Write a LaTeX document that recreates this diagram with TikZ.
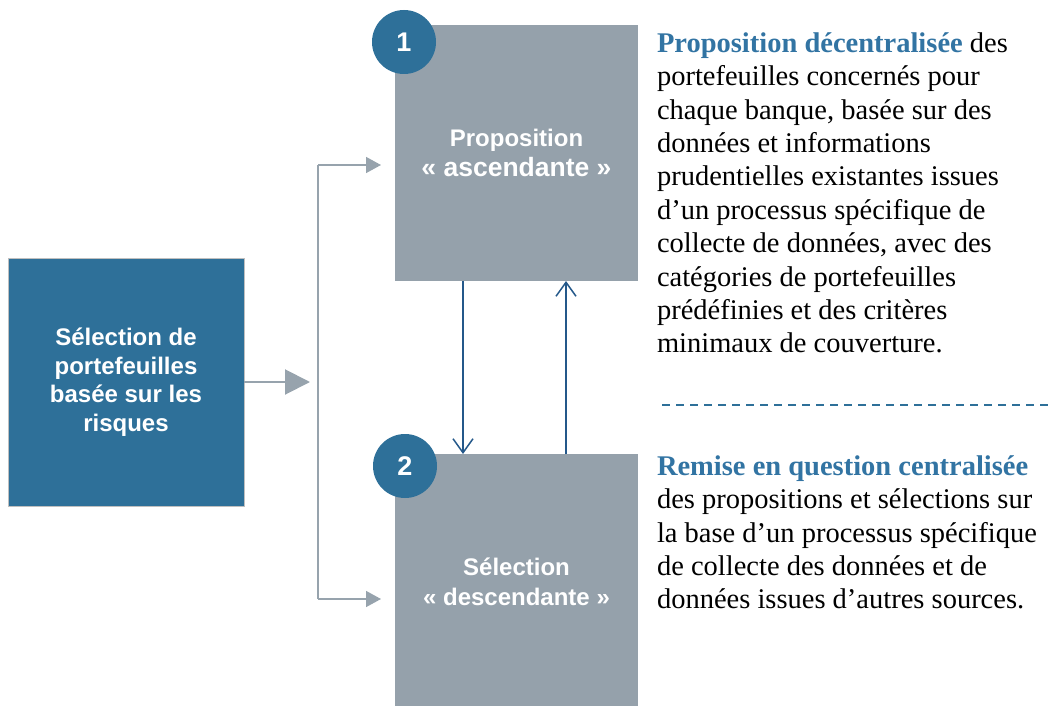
\documentclass[tikz,border=0pt]{standalone}
\usepackage{fontspec}
\setmainfont{Liberation Serif}
\setsansfont{Liberation Sans}
\usepackage{xcolor}
\usetikzlibrary{positioning,calc,arrows.meta}
\definecolor{mainblue}{HTML}{2E7099}
\definecolor{headblue}{HTML}{3274A3}
\definecolor{arrowblue}{HTML}{24588A}
\definecolor{boxgrey}{HTML}{95A1AB}
\definecolor{linegrey}{HTML}{97A3AD}

\begin{document}
\begin{tikzpicture}[
    x=1pt, y=-1pt,
    outer sep=0pt,
    greybox/.style={fill=boxgrey, minimum width=243pt, minimum height=256pt, align=center, text=white, font=\sffamily\bfseries\fontsize{24}{30}\selectfont},
    bluebox/.style={fill=mainblue, draw=black!25, line width=1pt, minimum width=236pt, minimum height=248pt, align=center, text=white, font=\sffamily\bfseries\fontsize{24}{28.5}\selectfont},
    numdot/.style={circle, fill=mainblue, minimum size=64pt, inner sep=0pt, text=white, font=\sffamily\bfseries\fontsize{27}{30}\selectfont},
    desctext/.style={anchor=north west, inner sep=0pt, align=left, font=\fontsize{28.5}{33.4}\selectfont},
    feed/.style={draw=linegrey, line width=1.5pt},
    updown/.style={draw=arrowblue, line width=1.5pt, -{Straight Barb[length=14pt, width=20pt]}}
]
    \useasboundingbox (0,0) rectangle (1054,706);

    \node [bluebox] (sel) at (126,382) {Sélection de\\portefeuilles\\basée sur les\\risques};
    \node [greybox] (prop) at (516.5,153) {Proposition\\{\fontsize{26.5}{30}\selectfont « ascendante »}};
    \node [greybox, below=173pt of prop] (desc) {Sélection\\« descendante »};
    \node [numdot] (n1) at (404,42) {1};
    \node [numdot] (n2) at (405,466) {2};

    \coordinate (brk mid) at (318,382);
    \coordinate (brk top) at (318,165);
    \coordinate (brk bot) at (318,599);

    \draw [feed, -{Triangle[length=25pt, width=25pt]}, line width=2pt, shorten >=8pt] (sel.east) -- (brk mid);
    \draw [feed] (brk top) -- (brk bot);
    \draw [feed, -{Triangle[length=15pt, width=16pt]}, shorten >=14pt] (brk top) -- (brk top -| prop.west);
    \draw [feed, -{Triangle[length=15pt, width=16pt]}, shorten >=14pt] (brk bot) -- (brk bot -| desc.west);

    \draw [updown] ([xshift=-53.5pt]prop.south) -- ([xshift=-53.5pt]desc.north);
    \draw [updown] ([xshift=49.5pt]desc.north) -- ([xshift=49.5pt]prop.south);

    \node [desctext] (t1) at (657,32.5) {\textcolor{headblue}{\textbf{Proposition décentralisée}} des\\portefeuilles concernés pour\\chaque banque, basée sur des\\données et informations\\prudentielles existantes issues\\d’un processus spécifique de\\collecte de données, avec des\\catégories de portefeuilles\\prédéfinies et des critères\\minimaux de couverture.};

    \draw [draw=mainblue, line width=2pt, dash pattern=on 8pt off 6pt] (662,405) -- (1050,405);

    \node [desctext] (t2) at (657,455.5) {\textcolor{headblue}{\textbf{Remise en question centralisée}}\\des propositions et sélections sur\\la base d’un processus spécifique\\de collecte des données et de\\données issues d’autres sources.};
\end{tikzpicture}
\end{document}
